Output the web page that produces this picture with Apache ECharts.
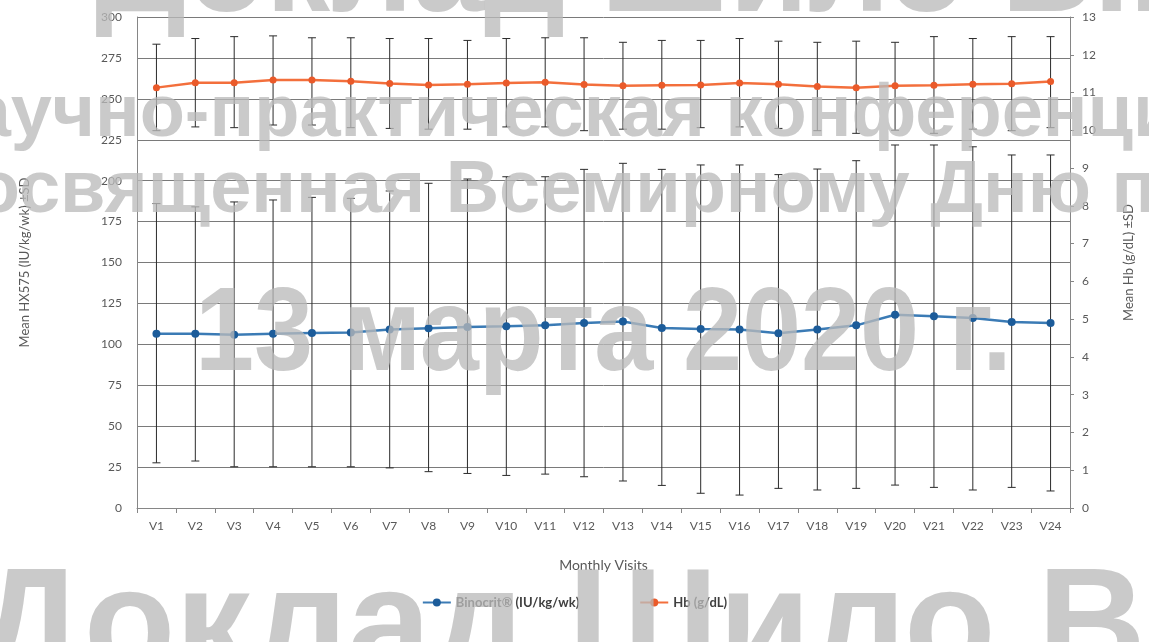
<!DOCTYPE html>
<html>
<head>
<meta charset="utf-8">
<title>HX575 / Hb by visit</title>
<script src="https://cdn.jsdelivr.net/npm/echarts@6.0.0/dist/echarts.min.js"></script>
<style>
  html, body { margin: 0; padding: 0; background: #fff; }
  #chart { width: 1149px; height: 642px; }
</style>
</head>
<body>
<div id="chart"></div>
<script>
  // visits on the x axis
  var visits = ['V1','V2','V3','V4','V5','V6','V7','V8','V9','V10','V11','V12',
                'V13','V14','V15','V16','V17','V18','V19','V20','V21','V22','V23','V24'];

  // Binocrit mean dose (IU/kg/wk), with the ends of the ±SD bars
  var binocrit = [106.5,106.5,105.9,106.5,106.9,107.3,109,109.9,110.6,111,111.6,113,
                  114,110,109.3,109,106.7,109,111.6,118.1,117.1,116.1,113.6,113];
  var binoLow  = [27.6,28.7,25.2,25.2,25.2,25.2,24.5,22.2,21.1,19.9,20.7,19.1,
                  16.5,13.8,9.0,7.9,12.0,11.0,12.0,14.0,12.6,11.0,12.6,10.4];
  var binoHigh = [186,184,187,188.2,189.8,189.2,193.7,198.4,201,202.4,202.4,206.9,
                  210.6,206.9,209.6,209.6,203.7,207.1,212.2,221.8,221.8,220.7,215.7,215.7];

  // Hb mean (g/dL), with the ends of the ±SD bars
  var hb     = [11.13,11.26,11.26,11.33,11.33,11.30,11.24,11.20,11.22,11.25,11.27,11.21,
                11.18,11.19,11.20,11.25,11.22,11.16,11.13,11.18,11.19,11.22,11.23,11.29];
  var hbLow  = [9.99,10.09,10.07,10.14,10.14,10.07,10.05,10.03,10.03,10.09,10.09,9.99,
                10.03,10.03,10.07,10.09,10.05,9.99,9.92,10.0,9.92,10.03,9.99,10.07];
  var hbHigh = [12.28,12.43,12.48,12.50,12.45,12.45,12.43,12.43,12.38,12.43,12.45,12.45,
                12.33,12.38,12.38,12.43,12.36,12.33,12.36,12.33,12.48,12.43,12.48,12.48];

  // watermark lines
  var markLines = ['Доклад Шило В.Ю.', 'научно-практическая конференция',
                   'посвященная Всемирному Дню почки', '13 марта 2020 г.', 'Доклад Шило В.Ю.'];

  var font = 'Lato, "Open Sans", sans-serif';
  var axisGray = '#868686';
  var labelGray = '#595959';

  function pairs(lo, hi) {
    var out = [];
    for (var i = 0; i < lo.length; i++) out.push([i, lo[i], hi[i]]);
    return out;
  }

  // vertical bar with caps
  function errorBar(params, api) {
    var x = api.value(0);
    var top = api.coord([x, api.value(2)]);
    var bot = api.coord([x, api.value(1)]);
    var w = 4;
    var st = { stroke: '#2b2b2b', lineWidth: 1 };
    return {
      type: 'group',
      children: [
        { type: 'line', shape: { x1: top[0], y1: top[1], x2: bot[0], y2: bot[1] }, style: st },
        { type: 'line', shape: { x1: top[0]-w, y1: top[1], x2: top[0]+w, y2: top[1] }, style: st },
        { type: 'line', shape: { x1: bot[0]-w, y1: bot[1], x2: bot[0]+w, y2: bot[1] }, style: st }
      ]
    };
  }

  function wm(text, x, y, size, sx) {
    return {
      type: 'text', x: x, y: y, z: 100, scaleX: sx || 1, silent: true,
      style: {
        text: text, fill: 'rgba(186,186,186,0.77)',
        font: 'bold ' + size + 'px "Liberation Sans", Arial, sans-serif',
        align: 'left', verticalAlign: 'middle'
      }
    };
  }

  var chart = echarts.init(document.getElementById('chart'));
  var option = {
    backgroundColor: '#fff',
    animation: false,
    textStyle: { fontFamily: font },
    grid: { left: 137, right: 79, top: 17, bottom: 134, containLabel: false },
    legend: {
      bottom: 28,
      left: 'center',
      itemGap: 60,
      itemWidth: 28,
      itemHeight: 10,
      textStyle: { fontFamily: font, fontSize: 13, fontWeight: 'bold', color: '#404040' },
      data: ['Binocrit® (IU/kg/wk)', 'Hb (g/dL)']
    },
    xAxis: {
      type: 'category',
      data: visits,
      name: 'Monthly Visits',
      nameLocation: 'middle',
      nameGap: 50,
      nameTextStyle: { fontSize: 14, color: labelGray },
      axisLine: { lineStyle: { color: axisGray, width: 1 } },
      axisTick: { show: true, length: 5, lineStyle: { color: axisGray } },
      axisLabel: { fontSize: 12, color: labelGray, margin: 12 },
      splitLine: { show: false }
    },
    yAxis: [
      {
        type: 'value',
        min: 0, max: 300, interval: 25,
        name: 'Mean HX575 (IU/kg/wk) ±SD',
        nameLocation: 'middle',
        nameRotate: 90,
        nameGap: 106,
        nameTextStyle: { fontSize: 13, color: labelGray },
        axisLine: { show: true, lineStyle: { color: axisGray } },
        axisTick: { show: false },
        axisLabel: { fontSize: 12, color: labelGray, margin: 15 },
        splitLine: { show: true, lineStyle: { color: '#7a7a7a', width: 1 } }
      },
      {
        type: 'value',
        position: 'right',
        min: 0, max: 13, interval: 1,
        name: 'Mean Hb (g/dL) ±SD',
        nameLocation: 'middle',
        nameRotate: 90,
        nameGap: 52,
        nameTextStyle: { fontSize: 13, color: labelGray },
        axisLine: { show: true, lineStyle: { color: axisGray } },
        axisTick: { show: true, length: 4, lineStyle: { color: axisGray } },
        axisLabel: { fontSize: 12, color: labelGray, margin: 12 },
        splitLine: { show: false }
      }
    ],
    series: [
      {
        name: 'binoErr',
        type: 'custom',
        yAxisIndex: 0,
        renderItem: errorBar,
        encode: { x: 0, y: [1, 2] },
        data: pairs(binoLow, binoHigh),
        z: 1,
        silent: true
      },
      {
        name: 'hbErr',
        type: 'custom',
        yAxisIndex: 1,
        renderItem: errorBar,
        encode: { x: 0, y: [1, 2] },
        data: pairs(hbLow, hbHigh),
        z: 1,
        silent: true
      },
      {
        name: 'Binocrit® (IU/kg/wk)',
        type: 'line',
        yAxisIndex: 0,
        data: binocrit,
        symbol: 'circle',
        symbolSize: 8,
        lineStyle: { color: '#3b7bb5', width: 2.5 },
        itemStyle: { color: '#1c5c9a' },
        z: 3
      },
      {
        name: 'Hb (g/dL)',
        type: 'line',
        yAxisIndex: 1,
        data: hb,
        symbol: 'circle',
        symbolSize: 7,
        lineStyle: { color: '#f36f3c', width: 2.5 },
        itemStyle: { color: '#ea5a2a' },
        z: 3
      }
    ],
    graphic: [
      wm(markLines[0], 95, -24, 128),
      wm(markLines[1], -75, 116, 74),
      wm(markLines[2], -70, 192, 74),
      wm(markLines[3], 195, 337, 118, 0.9),
      wm(markLines[4], -25, 632, 150)
    ]
  };
  chart.setOption(option);
</script>
</body>
</html>
